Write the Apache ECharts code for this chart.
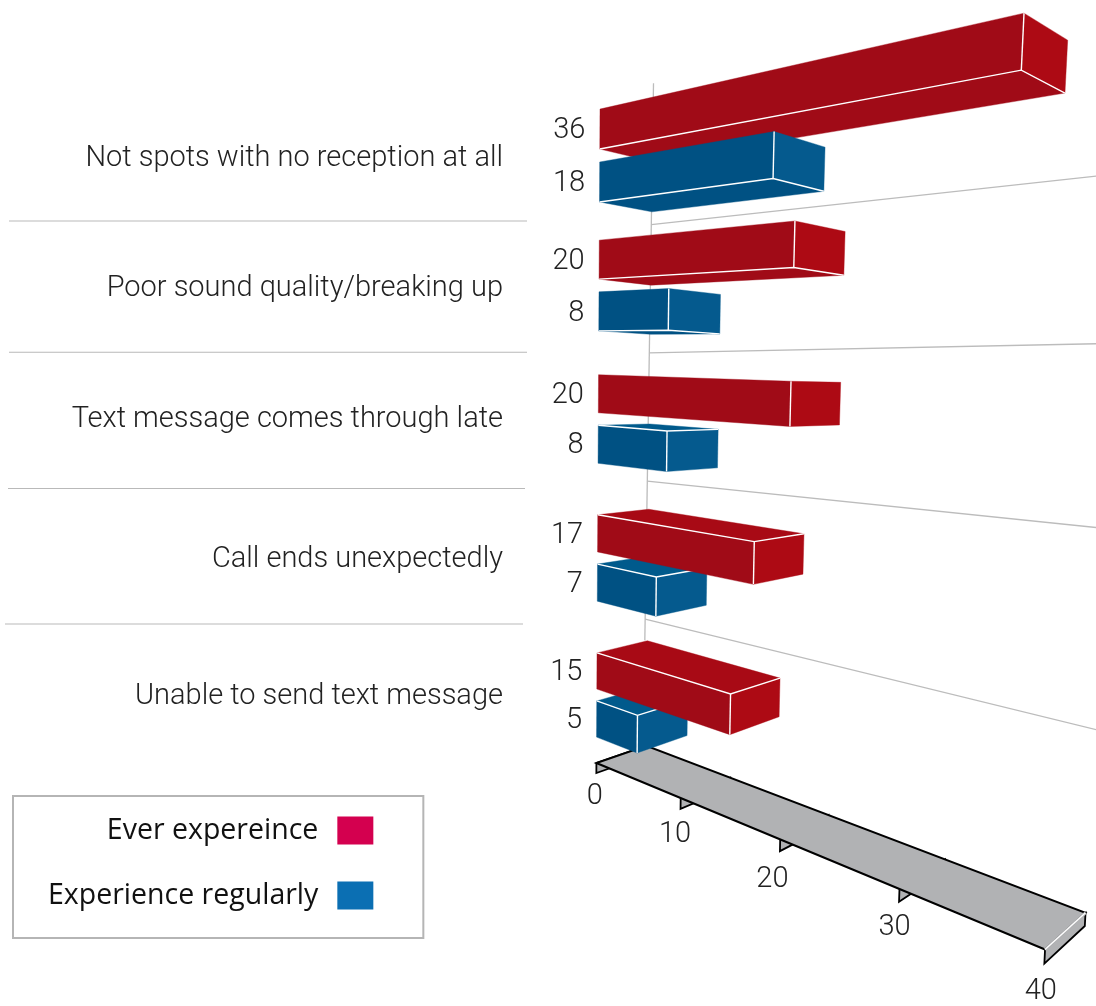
<!DOCTYPE html>
<html><head><meta charset="utf-8">
<style>html,body{margin:0;padding:0;background:#fff}#c{width:1096px;height:1006px}</style>
<script src="https://cdn.jsdelivr.net/npm/echarts@6/dist/echarts.min.js"></script>
</head><body><div id="c"></div>
<script>
const categories = ['Not spots with no reception at all','Poor sound quality/breaking up','Text message comes through late','Call ends unexpectedly','Unable to send text message'];
const everValues = [36,20,20,17,15];
const regularValues = [18,8,8,7,5];
const axisTicks = [0,10,20,30,40];
const seriesNames = ['Ever expereince','Experience regularly'];

// layout of the flat grid that the axes scale onto
const GL=600, GW=400, GT=88, GH=675;
const rowShift=[0,-5,-6.5,-2.5,-0.5];
const labelShift=[3.5,3.5,1,2,2];
const sepShift=[0.5,0,0,-2.5], sepX=[[9,527],[9,527],[8,525],[5,523]];
const gridVpY=[347,376,366,346], gridStart=[0,0,-5,-2];
const tickLabelDX=[2,-2,-4,-1,0], tickLabelDY=[-2,0,3,0,2];
// perspective camera
const VPV=[-421,340], VPD=[1650,400], VPG_X=-470;
const ALPHA=-0.00815, BETA=0.0001, GAMMA=0.053, TILT=-0.0055;
const LABEL_FONT='300 29px Roboto';

function proj(gx,y0,d,vp){
  vp=vp||VPV;
  const x0=GL+TILT*(y0-110), W=1+BETA*(y0-110), a=ALPHA*(gx-GL)*40/GW, g=GAMMA*d;
  const den=W+a+g;
  return [(x0*W+a*vp[0]+g*VPD[0])/den,(y0*W+a*vp[1]+g*VPD[1])/den];
}
function poly(pts,fill,z2){return {type:'polygon',z2:z2,shape:{points:pts},style:{fill:fill,stroke:fill,lineWidth:0.4}};}
function line(pts,col,w,z2){return {type:'polyline',z2:z2,shape:{points:pts},style:{stroke:col,lineWidth:w,fill:null}};}
function txt(x,y,t,align,font,z2){return {type:'text',z2:z2||50,x:x,y:y,style:{text:t,font:font||LABEL_FONT,fill:'#222',textAlign:align,textVerticalAlign:'middle'}};}

function barRender(isBlue,faces){
  return function(params,api){
    const val=api.value(0), row=api.value(1);
    const c0=api.coord([0,row]), c1=api.coord([val,row]), band=api.size([0,1])[1];
    const cy=c0[1]+rowShift[row];
    const outer=band*(0.344-0.008*row), inner=band*(0.048-0.001*row);
    const yt=isBlue?cy+inner:cy-outer, yb=isBlue?cy+outer:cy-inner;
    const x=c1[0];
    const ftl=proj(GL,yt,0),fbl=proj(GL,yb,0),ftr=proj(x,yt,0),fbr=proj(x,yb,0);
    const btl=proj(GL,yt,1),bbl=proj(GL,yb,1),btr=proj(x,yt,1),bbr=proj(x,yb,1);
    const z=(isBlue===(row<2))?20:10;
    const kids=[];
    const topVis=btl[1]<ftl[1], botVis=bbl[1]>fbl[1];
    if(topVis) kids.push(poly([ftl,ftr,btr,btl],faces.top,z));
    if(botVis) kids.push(poly([fbl,fbr,bbr,bbl],faces.front,z));
    kids.push(poly([ftl,ftr,fbr,fbl],faces.front,z+1));
    kids.push(poly([ftr,btr,bbr,fbr],faces.end,z+1));
    kids.push(line([ftr,fbr],'#fff',1.4,z+2));
    if(topVis) kids.push(line([ftl,ftr,btr],'#fff',1.4,z+2));
    if(botVis) kids.push(line([fbl,fbr,bbr],'#fff',1.4,z+2));
    const lp=proj(GL,(yt+yb)/2,0);
    kids.push(txt(lp[0]-14.5,lp[1]+2,String(val),'right'));
    return {type:'group',children:kids};
  };
}
const centerY=(api,row)=>api.coord([0,row])[1]+rowShift[row];
const gridD=y=>1-0.0001*(y-110);
function band(api){return api.size([0,1])[1];}

const wallsSeries={type:'custom',z:1,silent:true,data:categories.slice(0,4).map((c,i)=>[0,i]),encode:{x:0,y:1},
  renderItem(params,api){
    const row=api.value(1);
    const sep=(centerY(api,row)+centerY(api,row+1))/2;
    const y0=sep+0.025*(sep-420)+gridStart[row];
    const d=gridD(y0), vp=[VPG_X,gridVpY[row]];
    const kids=[line([[sepX[row][0],sep+sepShift[row]],[sepX[row][1],sep+sepShift[row]]],'#b9b9b9',1.2,1),
      line([proj(GL,y0,d,vp),proj(GL+GW*1.25,y0,d,vp)],'#bcbcbc',1.3,1)];
    return {type:'group',children:kids};
  }};
const verticalSeries={type:'custom',z:1,silent:true,data:[[0,0]],encode:{x:0,y:1},
  renderItem(params,api){
    const top=centerY(api,0)-band(api)*0.66, bot=centerY(api,4)-band(api)*0.32;
    return line([proj(GL,top,gridD(top)),proj(GL,bot,gridD(bot))],'#bcbcbc',1.3,1);
  }};
const labelSeries={type:'custom',z:30,silent:true,data:categories.map((c,i)=>[0,i]),encode:{x:0,y:1},
  renderItem(params,api){
    const row=api.value(1);
    return txt(503,centerY(api,row)+labelShift[row],categories[row],'right');
  }};
const axisY=GT+GH;
const WALL_H=10;
const lastTick=axisTicks[axisTicks.length-1];
function tickRender(params,api){
    const t=api.value(0), x=api.coord([t,0])[0];
    const A=proj(x,axisY,0),B=proj(x,axisY+WALL_H,0),C=proj(x,axisY+WALL_H,1),D=proj(x,axisY,1);
    const kids=[{type:'polygon',shape:{points:[A,B,C,D]},style:{fill:'#b1b2b4',stroke:'#000',lineWidth:1.8}}];
    if(t===lastTick){
      kids.push(line([A,D],'#b1b2b4',3,2));
      kids.push(line([A,D],'#fff',1.3,3));
    }
    const i=axisTicks.indexOf(t);
    kids.push(txt(B[0]-3.5+tickLabelDX[i],B[1]+26+tickLabelDY[i],String(t),'center',LABEL_FONT));
    return {type:'group',children:kids};
}
const tickSeries={type:'custom',z:2,silent:true,data:axisTicks.filter(t=>t!==lastTick).map(t=>[t,0]),encode:{x:0,y:1},renderItem:tickRender};
const plateSeries={type:'custom',z:3,silent:true,data:[[axisTicks[0],lastTick]],
  renderItem(params,api){
    const a=api.coord([api.value(0),0])[0], b=api.coord([api.value(1),0])[0];
    return {type:'polygon',shape:{points:[proj(a,axisY,0),proj(b,axisY,0),proj(b,axisY,1),proj(a,axisY,1)]},
      style:{fill:'#b1b2b4',stroke:'#000',lineWidth:2}};
  }};
const endWallSeries={type:'custom',z:4,silent:true,data:[[lastTick,0]],encode:{x:0,y:1},renderItem:tickRender};
const everSeries={name:seriesNames[0],type:'custom',z:10,silent:true,itemStyle:{color:'#d4004f'},
  data:everValues.map((v,i)=>[v,i]),encode:{x:0,y:1},
  renderItem:barRender(false,{front:'#a00b17',top:'#a80a15',end:'#ad0a14'})};
const regularSeries={name:seriesNames[1],type:'custom',z:10,silent:true,itemStyle:{color:'#0b6fb3'},
  data:regularValues.map((v,i)=>[v,i]),encode:{x:0,y:1},
  renderItem:barRender(true,{front:'#005183',top:'#005a8c',end:'#055a8e'})};

const chart=echarts.init(document.getElementById('c'),null,{renderer:'canvas'});
chart.setOption({
  animation:false,
  backgroundColor:'#fff',
  grid:{left:GL,width:GW,top:GT,height:GH},
  xAxis:{type:'value',min:0,max:40,interval:10,show:false},
  yAxis:{type:'category',data:categories,inverse:true,show:false},
  legend:{orient:'vertical',left:13,top:796,align:'right',icon:'rect',itemWidth:36,itemHeight:28,itemGap:36,
    padding:[20,50,28,35],borderColor:'#b5b5b5',borderWidth:2,selectedMode:false,
    textStyle:{fontFamily:'Open Sans',fontSize:28.5,color:'#111',padding:[4,14,0,0]},data:seriesNames},
  series:[wallsSeries,verticalSeries,labelSeries,tickSeries,plateSeries,endWallSeries,everSeries,regularSeries]
});
</script></body></html>
